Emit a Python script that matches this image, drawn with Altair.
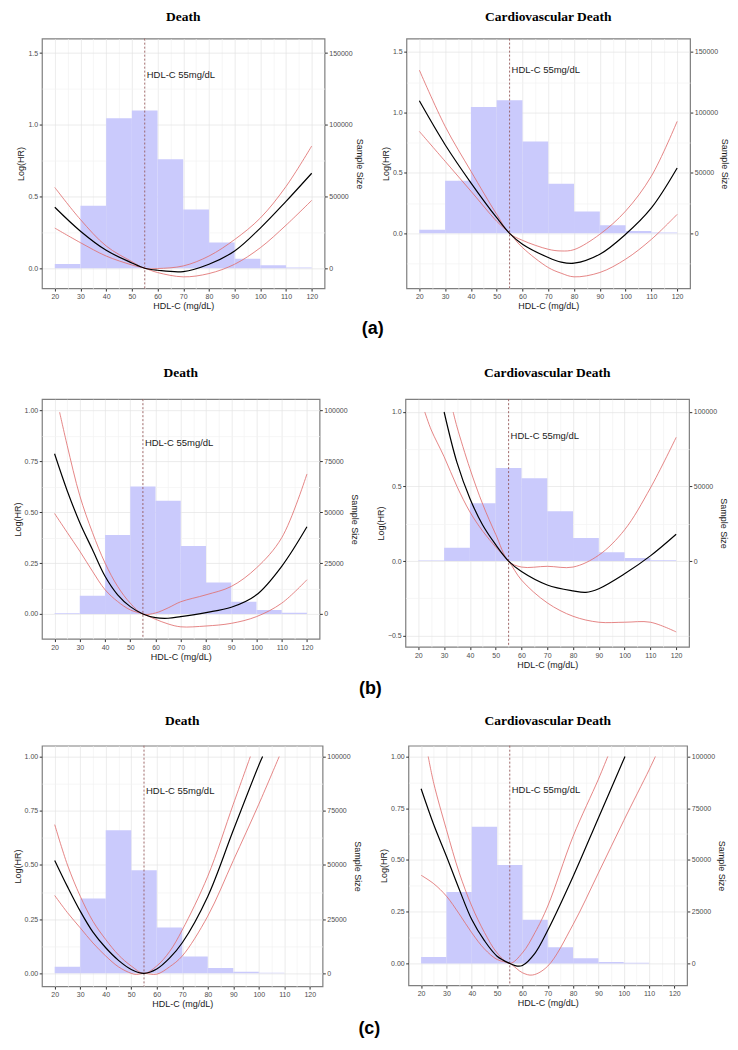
import altair as alt
import pandas as pd

# ---------------- data ----------------
BIN_START = [20, 30, 40, 50, 60, 70, 80, 90, 100, 110]
BIN_END = [30, 40, 50, 60, 70, 80, 90, 100, 110, 120]
HIST_A = [3000, 43500, 104500, 110000, 76000, 41000, 18000, 6700, 2000, 600]
HIST_B = [400, 9000, 38800, 62500, 55500, 33400, 15500, 6000, 2000, 600]
HIST_C = [3100, 34500, 66000, 47500, 21100, 7800, 2500, 700, 300, 0]

REF_X = 55
REF_LABEL = "HDL-C 55mg/dL"
X_GRID = [20, 25, 30, 35, 40, 45, 50, 55, 60, 65, 70, 75, 80, 85, 90, 95, 100, 105, 110, 115, 120]

# (a) Death
A1_X = [20, 30, 40, 50, 55, 60, 70, 80, 90, 100, 110, 120]
A1_EST = [0.425, 0.258, 0.125, 0.037, 0, -0.014, -0.023, 0.028, 0.12, 0.28, 0.466, 0.662]
A1_UP = [0.563, 0.339, 0.155, 0.046, 0, -0.002, 0.016, 0.085, 0.2, 0.35, 0.57, 0.852]
A1_LO = [0.28, 0.178, 0.085, 0.023, 0, -0.03, -0.06, -0.037, 0.028, 0.143, 0.3, 0.473]

# (a) Cardiovascular Death
A2_X = [20, 30, 40, 50, 55, 60, 70, 75, 80, 90, 100, 110, 120]
A2_EST = [1.096, 0.733, 0.418, 0.129, 0, -0.09, -0.2, -0.238, -0.247, -0.173, -0.008, 0.21, 0.54]
A2_UP = [1.35, 0.885, 0.514, 0.157, 0, -0.058, -0.132, -0.146, -0.135, -0.008, 0.184, 0.473, 0.926]
A2_LO = [0.843, 0.596, 0.349, 0.1, 0, -0.118, -0.283, -0.33, -0.36, -0.324, -0.214, -0.05, 0.157]

# (b) Death
B1_X = [20, 25, 30, 35, 40, 45, 50, 55, 60, 65, 70, 80, 90, 100, 110, 120]
B1_EST = [0.786, 0.605, 0.448, 0.316, 0.185, 0.094, 0.036, 0, -0.018, -0.021, -0.013, 0.007, 0.033, 0.094, 0.234, 0.428]
B1_UP_X = [22, 25, 30, 35, 40, 45, 50, 55, 60, 65, 70, 80, 90, 100, 110, 120]
B1_UP = [0.99, 0.827, 0.58, 0.4, 0.25, 0.135, 0.053, 0, 0.005, 0.03, 0.06, 0.094, 0.135, 0.226, 0.374, 0.687]
B1_LO = [0.493, 0.4, 0.308, 0.21, 0.119, 0.061, 0.02, 0, -0.026, -0.049, -0.063, -0.059, -0.046, -0.013, 0.053, 0.168]

# (b) Cardiovascular Death
B2_EST_X = [30, 35, 40, 45, 50, 55, 60, 70, 80, 85, 90, 100, 110, 120]
B2_EST = [1.0, 0.66, 0.42, 0.24, 0.11, 0, -0.07, -0.16, -0.2, -0.21, -0.185, -0.085, 0.035, 0.18]
B2_UP_X = [33.5, 35, 40, 45, 50, 55, 60, 70, 80, 90, 100, 110, 120]
B2_UP = [1.0, 0.9, 0.62, 0.38, 0.18, 0, -0.04, -0.035, -0.04, 0.04, 0.21, 0.49, 0.83]
B2_LO_X = [22.5, 25, 30, 35, 40, 45, 50, 55, 60, 70, 80, 90, 100, 110, 120]
B2_LO = [1.0, 0.88, 0.7, 0.5, 0.33, 0.2, 0.095, 0, -0.127, -0.28, -0.37, -0.41, -0.41, -0.41, -0.475]

# (c) Death
C1_EST_X = [20, 25, 30, 35, 40, 45, 50, 55, 60, 65, 70, 80, 90, 100, 101.5]
C1_EST = [0.521, 0.4, 0.287, 0.19, 0.118, 0.06, 0.018, 0, 0.02, 0.07, 0.141, 0.355, 0.66, 0.96, 1.0]
C1_UP_X = [20, 25, 30, 35, 40, 45, 50, 55, 60, 65, 70, 80, 90, 96.7]
C1_UP = [0.686, 0.5, 0.356, 0.24, 0.156, 0.085, 0.034, 0, 0.034, 0.1, 0.2, 0.448, 0.78, 1.0]
C1_LO_X = [20, 25, 30, 35, 40, 45, 50, 52, 55, 60, 65, 70, 80, 90, 100, 108]
C1_LO = [0.359, 0.28, 0.21, 0.14, 0.08, 0.03, 0.0, -0.005, 0, -0.004, 0.03, 0.08, 0.264, 0.52, 0.78, 1.0]

# (c) Cardiovascular Death
C2_EST_X = [20, 25, 30, 35, 40, 45, 50, 55, 58, 60, 65, 70, 80, 90, 100.5]
C2_EST = [0.844, 0.67, 0.518, 0.36, 0.212, 0.11, 0.035, 0, -0.013, -0.01, 0.05, 0.16, 0.42, 0.703, 1.0]
C2_UP_X = [22.8, 25, 30, 35, 40, 45, 50, 55, 60, 65, 70, 80, 90, 93.7]
C2_UP = [1.0, 0.87, 0.646, 0.44, 0.277, 0.15, 0.051, 0, 0.051, 0.15, 0.277, 0.614, 0.89, 1.0]
C2_LO_X = [20, 25, 30, 35, 40, 45, 50, 55, 60, 64, 70, 80, 90, 100, 110, 112.5]
C2_LO = [0.426, 0.385, 0.325, 0.24, 0.148, 0.07, 0.019, 0, -0.045, -0.056, -0.013, 0.188, 0.437, 0.69, 0.935, 1.0]

# ---------------- style ----------------
BAR_COLOR = "#CACAFC"
RED = "#E07070"
MAJOR_GRID = "#E4E4E4"
MINOR_GRID = "#F2F2F2"
SANS = "Liberation Sans"
SERIF = "Liberation Serif"
SCALE_FACTOR = 100000


def x_axis():
    return alt.Axis(
        values=X_GRID,
        format="d",
        grid=True,
        labelExpr="datum.value % 10 === 0 ? datum.label : ''",
        tickOpacity={"condition": {"test": "datum.value % 10 === 0", "value": 1}, "value": 0},
        gridColor={"condition": {"test": "datum.value % 10 === 0", "value": MAJOR_GRID}, "value": MINOR_GRID},
        title="HDL-C (mg/dL)",
    )


def panel(title, hist, est_x, est, up_x, up, lo_x, lo, ydom, ygrid, step, fmt,
          right_vals, w, h, ann_y, title_offset):
    xscale = alt.Scale(domain=[15, 125], nice=False, zero=False)
    lscale = alt.Scale(domain=ydom, nice=False, zero=False)
    rscale = alt.Scale(domain=[ydom[0] * SCALE_FACTOR, ydom[1] * SCALE_FACTOR], nice=False, zero=False)
    test = f"abs(datum.value / {step} - round(datum.value / {step})) < 0.001"
    laxis = alt.Axis(
        orient="left",
        values=ygrid,
        format=fmt,
        grid=True,
        labelExpr=f"({test}) ? datum.label : ''",
        tickOpacity={"condition": {"test": test, "value": 1}, "value": 0},
        gridColor={"condition": {"test": test, "value": MAJOR_GRID}, "value": MINOR_GRID},
        title="Log(HR)",
    )
    raxis = alt.Axis(orient="right", values=right_vals, format="d", grid=False,
                     title="Sample Size", titleAngle=90)

    hist_df = pd.DataFrame({"x0": BIN_START, "x1": BIN_END, "n": hist})
    bars = alt.Chart(hist_df).mark_rect(color=BAR_COLOR, clip=True).encode(
        x=alt.X("x0:Q", scale=xscale, axis=x_axis()),
        x2="x1:Q",
        y=alt.Y("n:Q", scale=rscale, axis=raxis),
        y2=alt.datum(0),
    )

    def line(xs, ys, color, width, opacity):
        df = pd.DataFrame({"x": xs, "y": ys})
        return alt.Chart(df).mark_line(color=color, strokeWidth=width, opacity=opacity,
                                       interpolate="catmull-rom", clip=True).encode(
            x=alt.X("x:Q", scale=xscale, axis=x_axis()),
            y=alt.Y("y:Q", scale=lscale, axis=laxis),
        )

    rule = alt.Chart(pd.DataFrame({"x": [REF_X]})).mark_rule(
        color="#8E4A4A", strokeDash=[2, 2], strokeWidth=0.8).encode(
        x=alt.X("x:Q", scale=xscale, axis=x_axis()))
    text = alt.Chart(pd.DataFrame({"x": [REF_X], "y": [ann_y], "t": [REF_LABEL]})).mark_text(
        align="left", baseline="middle", dx=2, fontSize=9.5, font=SANS, color="#1a1a1a").encode(
        x=alt.X("x:Q", scale=xscale, axis=x_axis()),
        y=alt.Y("y:Q", scale=lscale, axis=laxis),
        text="t:N",
    )
    inner = alt.layer(
        rule,
        line(lo_x, lo, RED, 1.0, 0.85),
        line(up_x, up, RED, 1.0, 0.85),
        line(est_x, est, "black", 1.2, 1.0),
        text,
    )
    return alt.layer(bars, inner).resolve_scale(y="independent").properties(
        width=w, height=h,
        title=alt.TitleParams(title, font=SERIF, fontSize=13.5, fontWeight="bold",
                              color="black", anchor="middle", offset=title_offset),
    )


def grid(lo, hi, step):
    vals = []
    v = lo
    while v <= hi + 1e-9:
        vals.append(round(v, 4))
        v += step
    return vals


p_a1 = panel("Death", HIST_A, A1_X, A1_EST, A1_X, A1_UP, A1_X, A1_LO,
             [-0.14, 1.6], grid(0, 1.5, 0.25), 0.5, ".1f",
             [0, 50000, 100000, 150000], 283, 250, 1.35, 15)
p_a2 = panel("Cardiovascular Death", HIST_A, A2_X, A2_EST, A2_X, A2_UP, A2_X, A2_LO,
             [-0.455, 1.61], grid(-0.25, 1.5, 0.25), 0.5, ".1f",
             [0, 50000, 100000, 150000], 284, 250, 1.35, 15)
p_b1 = panel("Death", HIST_B, B1_X, B1_EST, B1_UP_X, B1_UP, B1_X, B1_LO,
             [-0.122, 1.054], grid(0, 1.0, 0.125), 0.25, ".2f",
             [0, 25000, 50000, 75000, 100000], 278, 240, 0.84, 19)
p_b2 = panel("Cardiovascular Death", HIST_B, B2_EST_X, B2_EST, B2_UP_X, B2_UP, B2_LO_X, B2_LO,
             [-0.575, 1.086], grid(-0.5, 1.0, 0.25), 0.5, ".1f",
             [0, 50000, 100000], 284, 248, 0.84, 19)
p_c1 = panel("Death", HIST_C, C1_EST_X, C1_EST, C1_UP_X, C1_UP, C1_LO_X, C1_LO,
             [-0.06, 1.05], grid(0, 1.0, 0.125), 0.25, ".2f",
             [0, 25000, 50000, 75000, 100000], 281, 241, 0.84, 18)
p_c2 = panel("Cardiovascular Death", HIST_C, C2_EST_X, C2_EST, C2_UP_X, C2_UP, C2_LO_X, C2_LO,
             [-0.106, 1.052], grid(0, 1.0, 0.125), 0.25, ".2f",
             [0, 25000, 50000, 75000, 100000], 279, 240, 0.84, 18)


def row(a, b, label, label_offset):
    return alt.hconcat(a, b, spacing=16).properties(
        title=alt.TitleParams(label, orient="bottom", anchor="middle", font=SANS,
                              fontSize=18, fontWeight="bold", color="black", offset=label_offset))


top_part = alt.vconcat(
    row(p_a1, p_a2, "(a)", 9),
    row(p_b1, p_b2, "(b)", 10),
    spacing=27,
)

chart = alt.vconcat(
    top_part,
    row(p_c1, p_c2, "(c)", 11),
    spacing=15,
).properties(
    padding={"left": 4, "top": 0, "right": 0, "bottom": 0}
).configure_axis(
    labelFont=SANS, labelFontSize=7, labelColor="#4D4D4D",
    titleFont=SANS, titleFontSize=9, titleFontWeight="normal", titleColor="#1A1A1A",
    tickColor="#333333", tickSize=2.75, domain=False, labelPadding=1.5, titlePadding=2,
    gridWidth=0.7,
).configure_view(
    stroke="#7F7F7F", strokeWidth=1.2
)

chart.save("out.html", embed_options={"renderer": "svg", "actions": False})
